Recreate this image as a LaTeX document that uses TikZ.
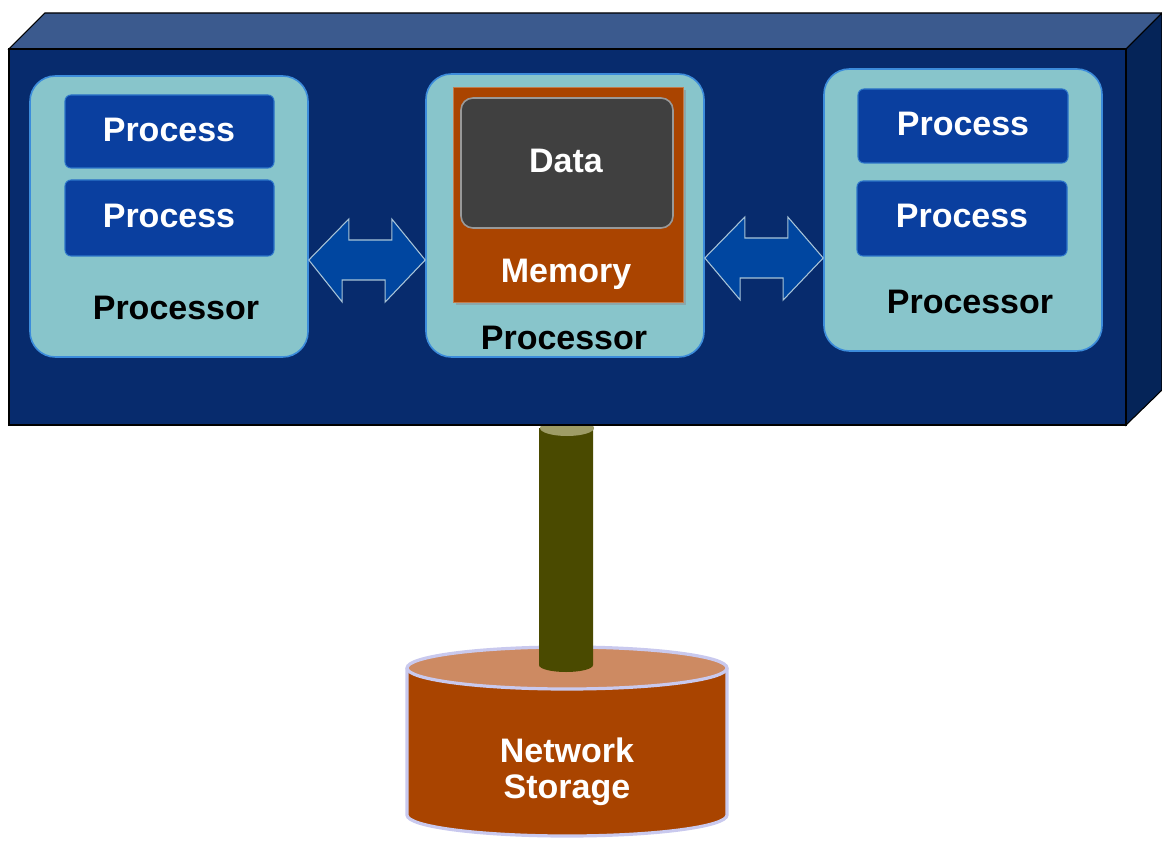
\documentclass[tikz,border=0pt]{standalone}
\usepackage{fontspec}
\setmainfont{Liberation Sans}
\usetikzlibrary{calc}
\definecolor{topface}{HTML}{3B5A8E}
\definecolor{frontface}{HTML}{072B6D}
\definecolor{sideface}{HTML}{052458}
\definecolor{procfill}{HTML}{88C5CB}
\definecolor{procedge}{HTML}{3C8CDB}
\definecolor{taskfill}{HTML}{0A3F9F}
\definecolor{memfill}{HTML}{AA4400}
\definecolor{datafill}{HTML}{404040}
\definecolor{arrowfill}{HTML}{0046A0}
\definecolor{arrowedge}{HTML}{A8C4D8}
\definecolor{pipefill}{HTML}{4A4A00}
\definecolor{pipecap}{HTML}{9E9C66}
\definecolor{diskbody}{HTML}{A94400}
\definecolor{disktop}{HTML}{CD8A62}
\definecolor{diskedge}{HTML}{C9C9EE}
\tikzset{
  lbl/.style={font=\bfseries\fontsize{25.5pt}{28pt}\selectfont, inner sep=0pt},
  proc/.style={fill=procfill, draw=procedge, line width=1.2pt, rounded corners=19pt, inner sep=0pt},
  task/.style={fill=taskfill, draw=procedge!70!taskfill, line width=0.8pt, rounded corners=4.5pt, inner sep=0pt},
  link/.style={fill=arrowfill, draw=arrowedge, line width=0.8pt},
}
\begin{document}
\begin{tikzpicture}[x=0.75pt, y=-0.75pt]
\useasboundingbox (0,0) rectangle (1162,841);

% storage cylinder
\fill[diskbody] (407,668) -- (407,815) arc[start angle=180, end angle=0, x radius=160, y radius=21] -- (727,668) -- cycle;
\draw[diskedge, line width=2.4pt] (407,668) -- (407,815) arc[start angle=180, end angle=0, x radius=160, y radius=21] -- (727,668);
\draw[diskedge, line width=2.4pt, fill=disktop] (567,668) ellipse[x radius=160, y radius=21];
\node[lbl, white] (storage) at (567,750) {Network};
\node[lbl, white] (storage2) at (567,790) {Storage};

% pipe from the chassis down into the storage
\fill[pipefill] (539,428) -- (539,665) arc[start angle=180, end angle=0, x radius=27, y radius=7] -- (593,428) -- cycle;
\fill[pipecap] (567,428) ellipse[x radius=27, y radius=8];

% chassis: top, side and front faces
\draw[fill=topface, line width=0.8pt] (9,49) -- (45,13) -- (1162,13) -- (1126,49) -- cycle;
\draw[fill=sideface, line width=0.8pt] (1126,49) -- (1162,13) -- (1162,390) -- (1126,425) -- cycle;
\draw[fill=frontface, line width=0.8pt] (9,49) rectangle (1126,425);
\node[inner sep=0pt, minimum width=837.75pt, minimum height=282pt] (front) at (567.5,237) {};

% left processor
\node[proc, minimum width=208.5pt, minimum height=210.75pt] (lp) at (169,216.5) {};
\node[task, minimum width=156.75pt, minimum height=54.75pt] (lt1) at (169.5,131.5) {};
\node[task, minimum width=156.75pt, minimum height=57pt] (lt2) at (169.5,218) {};
\node[lbl, white] at (169,130) {Process};
\node[lbl, white] at (169,216) {Process};
\node[lbl, black] (lpl) at (176,308) {Processor};

% centre processor with memory
\node[proc, minimum width=208.5pt, minimum height=212.25pt] (cp) at (565,215.5) {};
\fill[black!45, opacity=0.5] (456,90) rectangle (686,305);
\node[fill=memfill, draw=memfill!70!white, line width=0.6pt, inner sep=0pt, minimum width=172.5pt, minimum height=161.25pt] (mem) at (568,194.5) {};
\node[fill=datafill, draw=black!40, line width=1.2pt, rounded corners=9pt, inner sep=0pt, minimum width=159pt, minimum height=97.5pt] (data) at (567,163) {};
\node[lbl, white] at (566,161) {Data};
\node[lbl, white] at (566,274) {Memory};
\node[lbl, black] (cpl) at (564,338) {Processor};

% right processor
\node[proc, minimum width=208.5pt, minimum height=211.5pt] (rp) at (963,210) {};
\node[task, minimum width=157.5pt, minimum height=55.5pt] (rt1) at (963,126) {};
\node[task, minimum width=157.5pt, minimum height=56.25pt] (rt2) at (962,218.5) {};
\node[lbl, white] at (963,124) {Process};
\node[lbl, white] at (962,216) {Process};
\node[lbl, black] (rpl) at (970,302) {Processor};

% double arrows between processors
\draw[link] (lp.east |- 0,260) -- ++(40,-41) -- ++(0,21) -- ++(43,0) -- ++(0,-21)
  -- (cp.west |- 0,260) -- ++(-40,42) -- ++(0,-22) -- ++(-43,0) -- ++(0,22) -- cycle;
\draw[link] (cp.east |- 0,258) -- ++(40,-41) -- ++(0,21) -- ++(43,0) -- ++(0,-21)
  -- (rp.west |- 0,258) -- ++(-40,42) -- ++(0,-22) -- ++(-43,0) -- ++(0,22) -- cycle;
\end{tikzpicture}
\end{document}
